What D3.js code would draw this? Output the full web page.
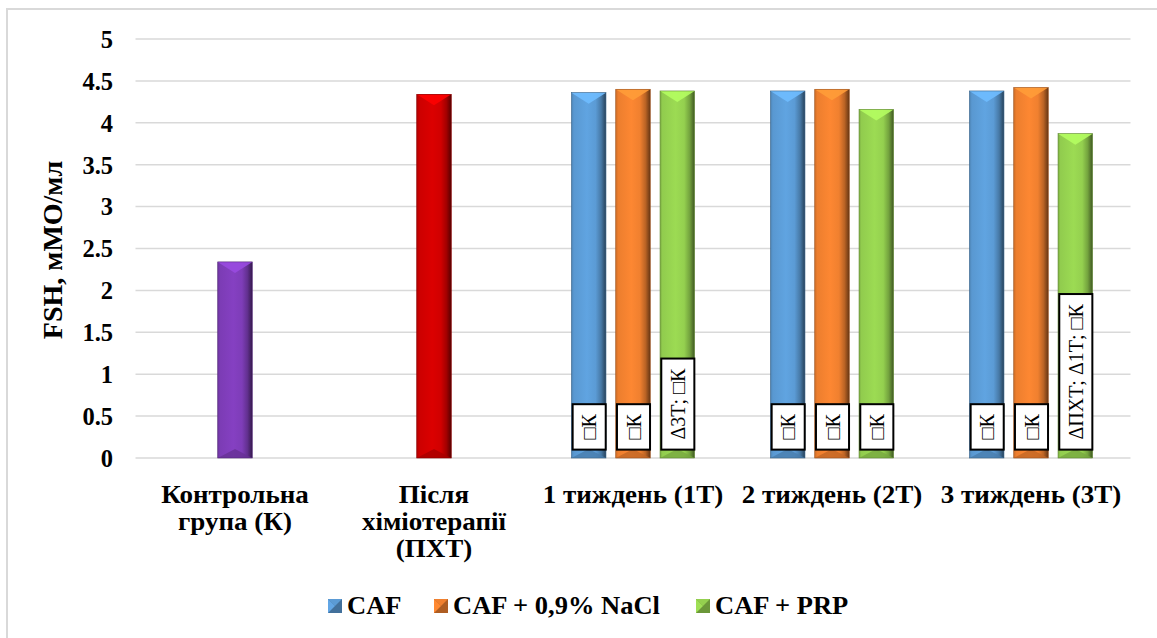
<!DOCTYPE html>
<html>
<head>
<meta charset="utf-8">
<script src="https://cdn.jsdelivr.net/npm/d3@7"></script>
<style>
  html, body { margin: 0; padding: 0; background: #ffffff; }
  svg { display: block; }
  svg text { font-family: 'Liberation Serif', 'Times New Roman', serif; }
</style>
</head>
<body>
<svg id="chart" width="1157" height="638"></svg>
<script>
// Categories along the x axis (line breaks as shown under the axis)
const categories = ["K", "PXT", "1T", "2T", "3T"];
const categoryLines = [
  ["Контрольна", "група (К)"],
  ["Після", "хіміотерапії", "(ПХТ)"],
  ["1 тиждень (1Т)"],
  ["2 тиждень (2Т)"],
  ["3 тиждень (3Т)"]
];

// Single bars: control group and after chemotherapy
const controlValue = 2.34;
const afterChemoValue = 4.34;

// Treatment series, one value per category (null where absent)
const seriesNames = ["CAF", "CAF + 0,9% NaCl", "CAF + PRP"];
const cafValues   = [null, null, 4.36, 4.38, 4.38];
const naclValues  = [null, null, 4.40, 4.40, 4.42];
const prpValues   = [null, null, 4.38, 4.16, 3.87];

// Significance notes written in boxes at the base of the bars
const cafNotes  = [null, null, "□К", "□К", "□К"];
const naclNotes = [null, null, "□К", "□К", "□К"];
const prpNotes  = [null, null, "Δ3Т; □К", "□К", "ΔПХТ; Δ1Т; □К"];

// Y axis ticks
const yTicks = [0, 0.5, 1, 1.5, 2, 2.5, 3, 3.5, 4, 4.5, 5];
const yTitle = "FSH, мМО/мл";

const FONT = "'Liberation Serif', 'Times New Roman', serif";
const svg = d3.select("#chart").attr("font-family", FONT);

// outer chart frame
svg.append("rect")
  .attr("x", 7).attr("y", 9).attr("width", 1170).attr("height", 650)
  .attr("fill", "none").attr("stroke", "#d9d9d9").attr("stroke-width", 2);

const x = d3.scaleBand().domain(categories).range([135.5, 1130.5]).padding(0);
const y = d3.scaleLinear().domain([0, 5]).range([458, 39]);
const inner = d3.scaleBand().domain(seriesNames).range([-61.6, 61.6]).paddingInner(0.22).paddingOuter(0);
const barW = inner.bandwidth();

// gradients for the bevelled bars
const defs = svg.append("defs");
const palette = {
  control: "#7e3db8",
  chemo: "#d00000",
  "CAF": "#5b9bd5",
  "CAF + 0,9% NaCl": "#f0802f",
  "CAF + PRP": "#94d04f"
};
const gradId = {};
Object.entries(palette).forEach(([key, col], i) => {
  const id = "g" + i;
  gradId[key] = id;
  const c = d3.color(col);
  const g = defs.append("linearGradient").attr("id", id)
    .attr("x1", "0%").attr("x2", "100%").attr("y1", "0%").attr("y2", "0%");
  [[0, c.darker(0.5)], [0.07, c.darker(0.05)], [0.45, c.brighter(0.15)],
   [0.7, c], [0.86, c.darker(0.7)], [1, c.darker(2.4)]]
    .forEach(([o, cc]) => g.append("stop").attr("offset", o).attr("stop-color", cc.formatHex()));
});

// gridlines
svg.append("g").selectAll("line").data(yTicks).join("line")
  .attr("x1", 135.5).attr("x2", 1130.5)
  .attr("y1", d => y(d)).attr("y2", d => y(d))
  .attr("stroke", "#d9d9d9").attr("stroke-width", 1.5);

// y axis labels
const yAxis = d3.axisLeft(y).tickValues(yTicks).tickSize(0).tickPadding(0)
  .tickFormat(d => String(d));
const yg = svg.append("g").attr("transform", "translate(113,0)").call(yAxis)
  .attr("font-family", FONT);
yg.select(".domain").remove();
yg.selectAll("text")
  .style("font-family", FONT)
  .attr("font-size", 24.5).attr("font-weight", "bold").attr("fill", "#000")
  .attr("dy", "0.34em");

svg.append("text")
  .attr("transform", "translate(62,250) rotate(-90)")
  .attr("text-anchor", "middle")
  .style("font-family", FONT)
  .attr("font-size", 28).attr("font-weight", "bold")
  .text(yTitle);

// bar records
const bars = [];
bars.push({ cat: "K", key: "control", value: controlValue, cx: x("K") + x.bandwidth() / 2, note: null });
bars.push({ cat: "PXT", key: "chemo", value: afterChemoValue, cx: x("PXT") + x.bandwidth() / 2, note: null });
const seriesVals = [cafValues, naclValues, prpValues];
const seriesNotes = [cafNotes, naclNotes, prpNotes];
seriesNames.forEach((s, si) => {
  categories.forEach((c, ci) => {
    const v = seriesVals[si][ci];
    if (v == null) return;
    bars.push({ cat: c, key: s, value: v,
      cx: x(c) + x.bandwidth() / 2 + inner(s) + barW / 2,
      note: seriesNotes[si][ci] });
  });
});

const barG = svg.append("g");
bars.forEach(b => {
  const x0 = b.cx - barW / 2, x1 = b.cx + barW / 2;
  const yt = y(b.value), yb = y(0);
  const c = d3.color(palette[b.key]);
  const g = barG.append("g");
  g.append("rect").attr("x", x0).attr("y", yt).attr("width", barW).attr("height", yb - yt)
    .attr("fill", `url(#${gradId[b.key]})`);
  // top bevel
  g.append("path")
    .attr("d", `M${x0},${yt} L${x1},${yt} L${b.cx},${yt + 11} Z`)
    .attr("fill", c.brighter(0.55).formatHex()).attr("opacity", 0.9);
  // bottom bevel
  g.append("path")
    .attr("d", `M${x0},${yb} L${x1},${yb} L${b.cx},${yb - 9} Z`)
    .attr("fill", c.darker(0.6).formatHex()).attr("opacity", 0.8);
  g.append("rect").attr("x", x0).attr("y", yt).attr("width", barW).attr("height", yb - yt)
    .attr("fill", "none").attr("stroke", c.darker(1.2).formatHex()).attr("stroke-width", 0.6);
});

// note boxes at the bar bases
const noteG = svg.append("g");
bars.filter(b => b.note).forEach(b => {
  const g = noteG.append("g");
  const t = g.append("text")
    .style("font-family", FONT)
    .attr("font-size", 20).attr("fill", "#000")
    .attr("text-anchor", "start")
    .text(b.note);
  const len = t.node().getComputedTextLength();
  const boxH = len + 20;
  const yBottom = y(0.1);
  const bw = barW - 1.5;
  g.insert("rect", "text")
    .attr("x", b.cx - bw / 2 + 0.5).attr("y", yBottom - boxH)
    .attr("width", bw).attr("height", boxH)
    .attr("fill", "#fff").attr("stroke", "#000").attr("stroke-width", 2);
  t.attr("transform", `translate(${b.cx + 7.5},${yBottom - 10}) rotate(-90)`);
});

// category labels
const xl = svg.append("g");
categories.forEach((c, i) => {
  const cx = x(c) + x.bandwidth() / 2;
  categoryLines[i].forEach((line, li) => {
    xl.append("text")
      .attr("transform", `translate(${cx},${503 + li * 27}) scale(1.06,1)`)
      .attr("text-anchor", "middle")
      .style("font-family", FONT)
      .attr("font-size", 25.5).attr("font-weight", "bold")
      .text(line);
  });
});

// legend
const legendX = [328, 434, 696];
const lg = svg.append("g");
seriesNames.forEach((s, i) => {
  const c = d3.color(palette[s]);
  const lx = legendX[i];
  lg.append("rect").attr("x", lx).attr("y", 599).attr("width", 14).attr("height", 14)
    .attr("fill", c.darker(0.9).formatHex());
  lg.append("path")
    .attr("d", `M${lx},${599} L${lx + 14},${599} L${lx + 7},${606} Z`)
    .attr("fill", c.formatHex());
  lg.append("path")
    .attr("d", `M${lx},${599} L${lx},${613} L${lx + 7},${606} Z`)
    .attr("fill", c.brighter(0.2).formatHex());
  lg.append("text")
    .attr("transform", `translate(${lx + 19},614) scale(1.06,1)`)
    .style("font-family", FONT)
    .attr("font-size", 25).attr("font-weight", "bold")
    .text(s);
});
</script>
</body>
</html>
